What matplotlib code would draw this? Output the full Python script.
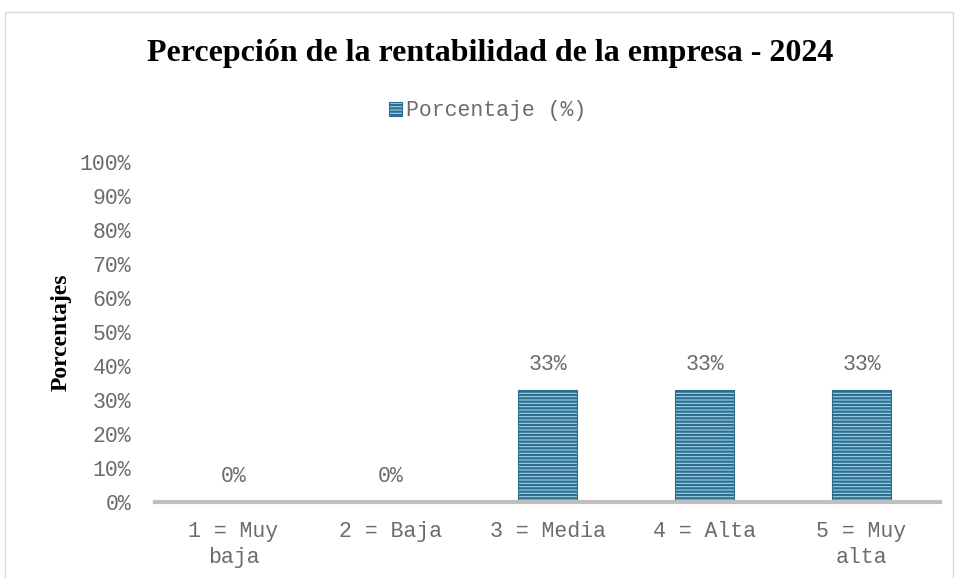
import matplotlib.pyplot as plt
from matplotlib.patches import Rectangle

categories = ["1 = Muy\nbaja", "2 = Baja", "3 = Media", "4 = Alta", "5 = Muy\nalta"]
porcentajes = [0, 0, 33, 33, 33]
yticks = [0, 10, 20, 30, 40, 50, 60, 70, 80, 90, 100]

MONO = "Liberation Mono"
SERIF = "Liberation Serif"
GREY = "#6b6b6b"

plt.rcParams["hatch.linewidth"] = 1.6
plt.rcParams["hatch.color"] = "#1f5f80"

fig = plt.figure(figsize=(9.55, 5.78), dpi=100)
ax = fig.add_axes([155 / 955, 1 - 502 / 578, 785 / 955, 340 / 578])

x = range(len(categories))
bars = ax.bar(x, porcentajes, width=0.376, color="#a4d0e3", edgecolor="#2a6f91",
              linewidth=0.8, hatch="-----", label="Porcentaje (%)")

for xi, v in zip(x, porcentajes):
    ax.annotate(f"{v}%", (xi, v), xytext=(0, 11), textcoords="offset points",
                ha="center", va="bottom", fontsize=15.5, family=MONO, color=GREY)

ax.set_xlim(-0.5, len(categories) - 0.5)
ax.set_ylim(0, 100)
ax.set_yticks(yticks)
ax.set_yticklabels([f"{t}%" for t in yticks], family=MONO, fontsize=15.5, color=GREY)
ax.set_xticks(list(x))
ax.set_xticklabels(categories, family=MONO, fontsize=15.5, color=GREY, linespacing=1.3)
ax.tick_params(axis="y", length=0, pad=17)
ax.tick_params(axis="x", length=0, pad=14)

for s in ["top", "right", "left"]:
    ax.spines[s].set_visible(False)
ax.spines["bottom"].set_color("#bfbfbf")
ax.spines["bottom"].set_linewidth(3)

ax.set_ylabel("Porcentajes", family=SERIF, fontweight="bold", fontsize=17, labelpad=6)

fig.text(490 / 955, 1 - 53 / 578, "Percepción de la rentabilidad de la empresa - 2024",
         ha="center", va="center", family=SERIF, fontweight="bold", fontsize=23)

leg = fig.legend(handles=[bars], loc="center", bbox_to_anchor=(488 / 955, 1 - 111 / 578),
                 frameon=False, prop={"family": MONO, "size": 15.5},
                 handlelength=0.6, handleheight=0.6, handletextpad=0.2)
for t in leg.get_texts():
    t.set_color(GREY)

fig.patches.append(Rectangle((5 / 955, -0.1), 948 / 955, 1.1 - 12 / 578,
                             transform=fig.transFigure, fill=False,
                             edgecolor="#d9d9d9", linewidth=1))

fig.savefig("out.png", dpi=100)
